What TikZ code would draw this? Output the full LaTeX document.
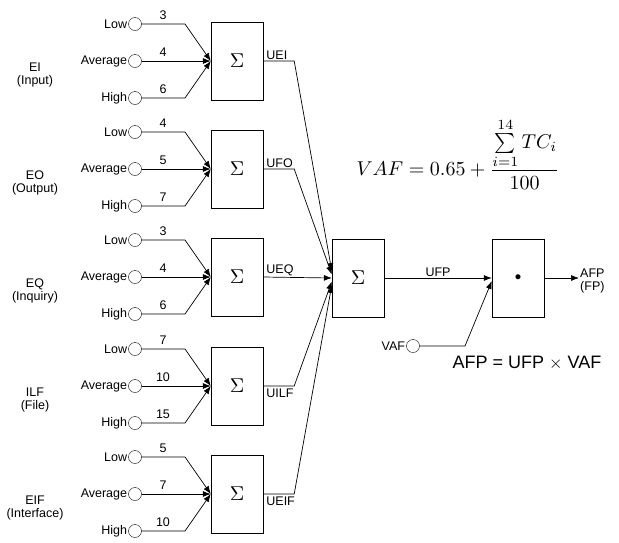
\documentclass[tikz,border=0pt]{standalone}
\usepackage{amsmath}
\usepackage{graphicx}
\usepackage{fontspec}
\setmainfont{Liberation Sans}
\usepackage{tikz}
\usetikzlibrary{arrows.meta,positioning}

\begin{document}
\begin{tikzpicture}[x=1pt, y=-1pt,
    sumbox/.style={rectangle, draw=black, minimum width=52pt, minimum height=78pt, inner sep=0pt},
    port/.style={circle, draw=black, minimum size=13pt, inner sep=0pt},
    lbl/.style={font=\fontsize{12.5}{13.5}\selectfont, inner sep=1pt},
    wire/.style={draw=black, line width=0.7pt},
    tip/.style={-{Latex[length=8pt,width=6pt]}}
]
\useasboundingbox (0,0) rectangle (619,542);

% EI group
\node[sumbox] (eiS) at (237,61) {\scalebox{2}{$\Sigma$}};
\node[port] (eiL) at (135,24) {};
\node[port] (eiA) at (135,61) {};
\node[port] (eiH) at (135,98) {};
\node[lbl, left=0pt of eiL] (eiLt) {Low};
\node[lbl, left=0pt of eiA] (eiAt) {Average};
\node[lbl, left=0pt of eiH] (eiHt) {High};
\node[lbl] (eiLn) at (163,15) {3};
\node[lbl] (eiAn) at (163,52) {4};
\node[lbl] (eiHn) at (163,89) {6};
\node[lbl, align=center] (eiT) at (35,75) {EI\\(Input)};

% EO group
\node[sumbox] (eoS) at (237,169) {\scalebox{2}{$\Sigma$}};
\node[port] (eoL) at (135,132) {};
\node[port] (eoA) at (135,169) {};
\node[port] (eoH) at (135,206) {};
\node[lbl, left=0pt of eoL] (eoLt) {Low};
\node[lbl, left=0pt of eoA] (eoAt) {Average};
\node[lbl, left=0pt of eoH] (eoHt) {High};
\node[lbl] (eoLn) at (163,123) {4};
\node[lbl] (eoAn) at (163,160) {5};
\node[lbl] (eoHn) at (163,197) {7};
\node[lbl, align=center] (eoT) at (35,183) {EO\\(Output)};

% EQ group
\node[sumbox] (eqS) at (237,277) {\scalebox{2}{$\Sigma$}};
\node[port] (eqL) at (135,240) {};
\node[port] (eqA) at (135,277) {};
\node[port] (eqH) at (135,314) {};
\node[lbl, left=0pt of eqL] (eqLt) {Low};
\node[lbl, left=0pt of eqA] (eqAt) {Average};
\node[lbl, left=0pt of eqH] (eqHt) {High};
\node[lbl] (eqLn) at (163,231) {3};
\node[lbl] (eqAn) at (163,268) {4};
\node[lbl] (eqHn) at (163,305) {6};
\node[lbl, align=center] (eqT) at (35,291) {EQ\\(Inquiry)};

% ILF group
\node[sumbox] (ilfS) at (237,386) {\scalebox{2}{$\Sigma$}};
\node[port] (ilfL) at (135,349) {};
\node[port] (ilfA) at (135,386) {};
\node[port] (ilfH) at (135,423) {};
\node[lbl, left=0pt of ilfL] (ilfLt) {Low};
\node[lbl, left=0pt of ilfA] (ilfAt) {Average};
\node[lbl, left=0pt of ilfH] (ilfHt) {High};
\node[lbl] (ilfLn) at (163,340) {7};
\node[lbl] (ilfAn) at (163,377) {10};
\node[lbl] (ilfHn) at (163,414) {15};
\node[lbl, align=center] (ilfT) at (35,400) {ILF\\(File)};

% EIF group
\node[sumbox] (eifS) at (237,494) {\scalebox{2}{$\Sigma$}};
\node[port] (eifL) at (135,457) {};
\node[port] (eifA) at (135,494) {};
\node[port] (eifH) at (135,531) {};
\node[lbl, left=0pt of eifL] (eifLt) {Low};
\node[lbl, left=0pt of eifA] (eifAt) {Average};
\node[lbl, left=0pt of eifH] (eifHt) {High};
\node[lbl] (eifLn) at (163,448) {5};
\node[lbl] (eifAn) at (163,485) {7};
\node[lbl] (eifHn) at (163,522) {10};
\node[lbl, align=center] (eifT) at (35,508) {EIF\\(Interface)};

% Total and adjustment
\node[sumbox] (sum) at (358,278) {\scalebox{2}{$\Sigma$}};
\node[sumbox] (mul) at (518,278) {\scalebox{1.3}{$\bullet$}};
\node[port] (vaf) at (413,346) {};
\node[lbl, left=0pt of vaf] (vafT) {VAF};
\node[lbl, align=center, anchor=west] (afpT) at (579,281) {AFP\\(FP)};
\node (vafEq) at (458,154)
    {\scalebox{2}{$VAF = 0.65 + \dfrac{\sum\limits_{i=1}^{14} TC_i}{100}$}};
\node[font=\fontsize{18}{20}\selectfont] (afpEq) at (527,363) {AFP = UFP $\times$ VAF};

% Inputs
\draw[wire, tip] (eiL) -- ++(50,0) -- (eiS.west);
\draw[wire, tip] (eiA) -- (eiS.west);
\draw[wire, tip] (eiH) -- ++(50,0) -- (eiS.west);
\draw[wire, tip] (eoL) -- ++(50,0) -- (eoS.west);
\draw[wire, tip] (eoA) -- (eoS.west);
\draw[wire, tip] (eoH) -- ++(50,0) -- (eoS.west);
\draw[wire, tip] (eqL) -- ++(50,0) -- (eqS.west);
\draw[wire, tip] (eqA) -- (eqS.west);
\draw[wire, tip] (eqH) -- ++(50,0) -- (eqS.west);
\draw[wire, tip] (ilfL) -- ++(50,0) -- (ilfS.west);
\draw[wire, tip] (ilfA) -- (ilfS.west);
\draw[wire, tip] (ilfH) -- ++(50,0) -- (ilfS.west);
\draw[wire, tip] (eifL) -- ++(50,0) -- (eifS.west);
\draw[wire, tip] (eifA) -- (eifS.west);
\draw[wire, tip] (eifH) -- ++(50,0) -- (eifS.west);

% Unadjusted counts
\draw[wire, tip] (eiS.east) -- ++(31,0) -- ([yshift=7pt]sum.west);
\draw[wire, tip] (eoS.east) -- ++(31,0) -- ([yshift=3.5pt]sum.west);
\draw[wire, tip] (eqS.east) -- (sum.west);
\draw[wire, tip] (ilfS.east) -- ++(31,0) -- ([yshift=-3.5pt]sum.west);
\draw[wire, tip] (eifS.east) -- ++(31,0) -- ([yshift=-7pt]sum.west);
\node[lbl, anchor=south west] (ueiT) at ([xshift=2pt]eiS.east) {UEI};
\node[lbl, anchor=south west] (ufoT) at ([xshift=2pt]eoS.east) {UFO};
\node[lbl, anchor=south west] (ueqT) at ([xshift=2pt]eqS.east) {UEQ};
\node[lbl, anchor=north west] (uilfT) at ([xshift=2pt,yshift=-2pt]ilfS.east) {UILF};
\node[lbl, anchor=north west] (ueifT) at ([xshift=2pt,yshift=-2pt]eifS.east) {UEIF};

% Adjusted count
\draw[wire, tip] (sum.east) -- (mul.west) node[lbl, midway, above] (ufpT) {UFP};
\draw[wire, tip] (vaf) -- ++(52,0) -- ([yshift=-3pt]mul.west);
\draw[wire, tip] (mul.east) -- (mul.east -| afpT.west);

\end{tikzpicture}
\end{document}
